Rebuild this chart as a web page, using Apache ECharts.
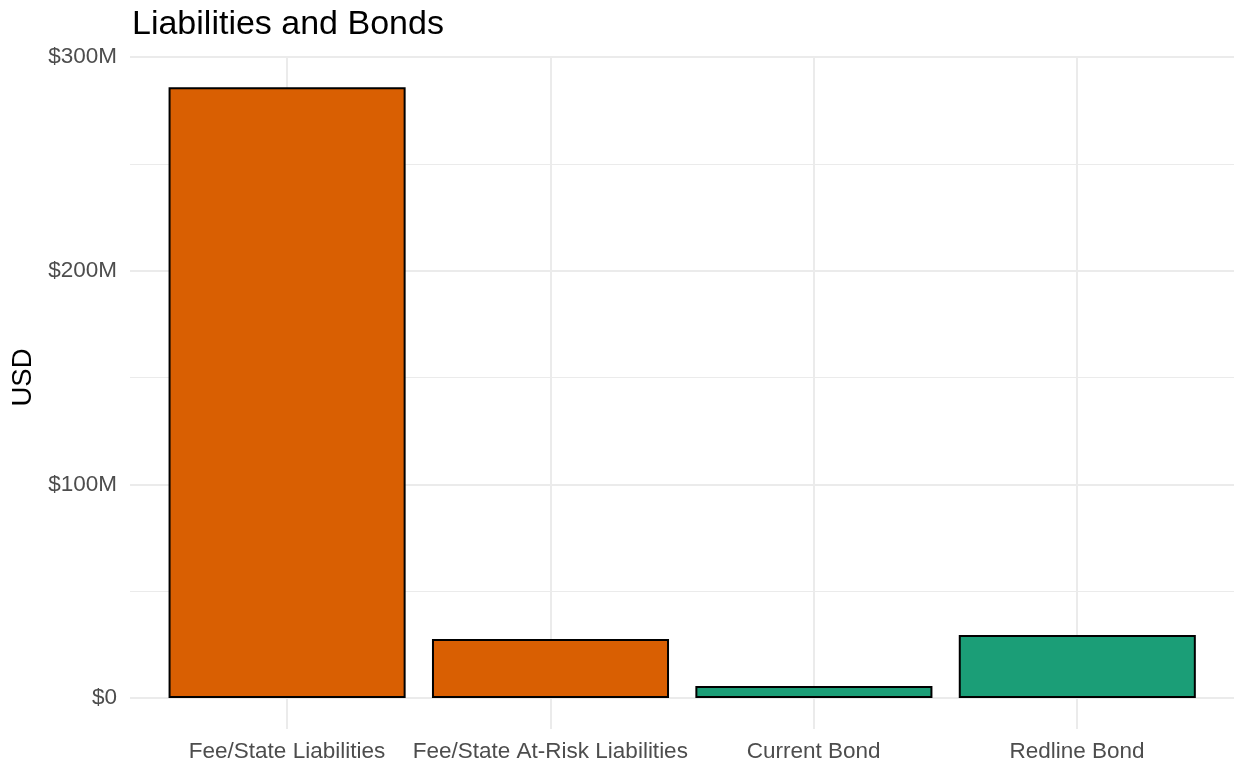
<!DOCTYPE html>
<html>
<head>
<meta charset="utf-8">
<script src="https://cdn.jsdelivr.net/npm/echarts@6/dist/echarts.min.js"></script>
<style>
  html, body { margin: 0; padding: 0; background: #fff; }
  #main { width: 1238px; height: 763px; }
</style>
</head>
<body>
<div id="main"></div>
<script>
var categories = ['Fee/State Liabilities', 'Fee/State At-Risk Liabilities', 'Current Bond', 'Redline Bond'];
var values = [285.9, 27.6, 5.6, 29.5]; // millions USD
var groups = ['liability', 'liability', 'bond', 'bond'];
var yTicks = [0, 100, 200, 300];

var groupColor = { liability: '#D95F02', bond: '#1B9E77' };
var font = 'Liberation Sans, Arial, sans-serif';

var chart = echarts.init(document.getElementById('main'));

var barData = [];
for (var i = 0; i < values.length; i++) {
    barData.push({
        value: values[i],
        itemStyle: { color: groupColor[groups[i]] }
    });
}

var option = {
    backgroundColor: '#fff',
    animation: false,
    title: {
        text: 'Liabilities and Bonds',
        left: 127,
        top: 3,
        textStyle: { fontFamily: font, fontSize: 34, fontWeight: 'normal', color: '#000' }
    },
    grid: [
        // 0: vertical gridlines + x labels (panel extends below zero)
        { left: 287, right: 161, top: 57, bottom: 34 },
        // 1: horizontal gridlines + y labels
        { left: 130, right: 4, top: 57, bottom: 65 },
        // 2: bars
        { left: 155.4, right: 29, top: 57, bottom: 65 }
    ],
    xAxis: [
        {
            gridIndex: 0, type: 'category', data: categories, boundaryGap: false,
            axisLine: { show: false }, axisTick: { show: false },
            axisLabel: { interval: 0, margin: 11, fontFamily: font, fontSize: 22.5, color: '#4D4D4D' },
            splitLine: { show: true, interval: 0, lineStyle: { color: '#EBEBEB', width: 2 } }
        },
        {
            gridIndex: 1, type: 'category', data: categories,
            show: false
        },
        {
            gridIndex: 2, type: 'category', data: categories,
            show: false
        }
    ],
    yAxis: [
        { gridIndex: 0, type: 'value', min: 0, max: 1, show: false },
        {
            gridIndex: 1, type: 'value', min: yTicks[0], max: yTicks[yTicks.length - 1], interval: 100,
            name: 'USD', nameLocation: 'middle', nameGap: 92,
            nameTextStyle: { fontFamily: font, fontSize: 27.5, color: '#000' },
            axisLine: { show: false }, axisTick: { show: false },
            axisLabel: {
                margin: 13, fontFamily: font, fontSize: 22.5, color: '#4D4D4D',
                formatter: function (v) { return v === 0 ? '$0' : '$' + v + 'M'; }
            },
            splitLine: { lineStyle: { color: '#EBEBEB', width: 2 } },
            minorTick: { show: false, splitNumber: 2 },
            minorSplitLine: { show: true, lineStyle: { color: '#EBEBEB', width: 1 } }
        },
        { gridIndex: 2, type: 'value', min: yTicks[0], max: yTicks[yTicks.length - 1], show: false }
    ],
    series: [
        {
            type: 'bar',
            xAxisIndex: 2,
            yAxisIndex: 2,
            barWidth: '90%',
            data: barData,
            itemStyle: { borderColor: '#000', borderWidth: 2 }
        }
    ]
};

chart.setOption(option);
</script>
</body>
</html>
